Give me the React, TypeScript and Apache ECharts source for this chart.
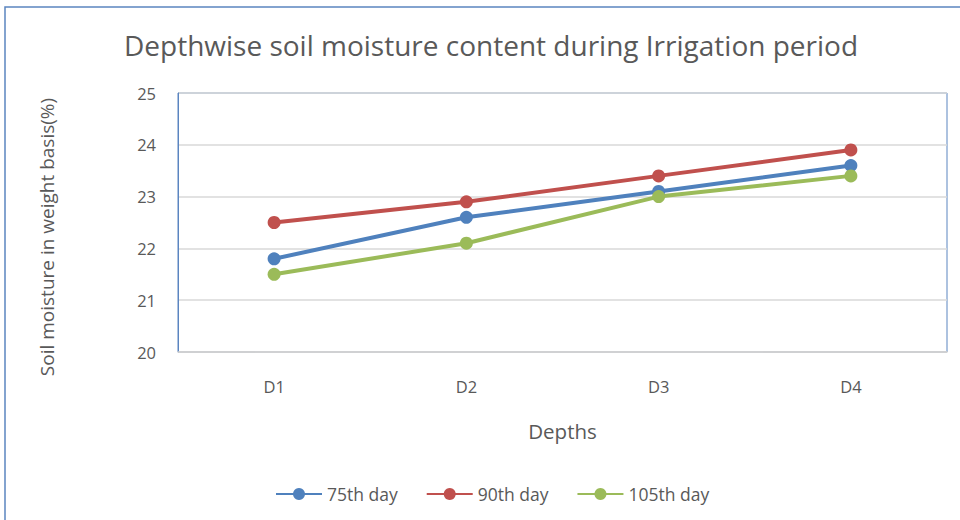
import React, { useEffect, useRef } from "react";
import * as echarts from "echarts";

const categories = ["D1", "D2", "D3", "D4"];
const day75 = [21.8, 22.6, 23.1, 23.6];
const day90 = [22.5, 22.9, 23.4, 23.9];
const day105 = [21.5, 22.1, 23.0, 23.4];
const seriesNames = ["75th day", "90th day", "105th day"];
const colors = ["#4f81bd", "#c0504d", "#9bbb59"];
const yAxisTitle = "Soil moisture in weight basis(%)";

const FONT = "'Open Sans', 'Noto Sans', sans-serif";
const TEXT = "#595959";

export default function App() {
  const ref = useRef<HTMLDivElement>(null);
  useEffect(() => {
    if (!ref.current) return;
    const chart = echarts.init(ref.current, undefined, { renderer: "svg" });
    const mk = (name: string, data: number[], color: string) => ({
      name,
      type: "line",
      data,
      symbol: "circle",
      symbolSize: 13,
      itemStyle: { color },
      lineStyle: { color, width: 4 },
    });
    chart.setOption({
      animation: false,
      backgroundColor: "#ffffff",
      textStyle: { fontFamily: FONT },
      graphic: [
        {
          type: "rect",
          shape: { x: 5, y: 7, width: 980, height: 540 },
          style: { fill: "none", stroke: "#5b85c0", lineWidth: 1.5 },
          silent: true,
        },
        {
          type: "text",
          x: 47,
          y: 237,
          rotation: Math.PI / 2,
          style: {
            text: yAxisTitle,
            fontFamily: FONT,
            fontSize: 19,
            fill: TEXT,
            align: "center",
            verticalAlign: "middle",
          },
          silent: true,
        },
      ],
      title: {
        text: "Depthwise soil moisture content during Irrigation period",
        left: 486,
        top: 26,
        textAlign: "center",
        textStyle: { fontFamily: FONT, fontSize: 28, fontWeight: "normal", color: TEXT },
      },
      legend: {
        bottom: 12,
        left: 270,
        itemWidth: 46,
        itemHeight: 15,
        itemGap: 28,
        textStyle: { fontFamily: FONT, fontSize: 17.5, color: TEXT },
        data: seriesNames,
      },
      grid: { left: 178, right: 13, top: 93, bottom: 168, show: true, borderColor: "#5b85c0", borderWidth: 1 },
      xAxis: {
        type: "category",
        data: categories,
        boundaryGap: true,
        name: "Depths",
        nameLocation: "middle",
        nameGap: 68,
        nameTextStyle: { fontFamily: FONT, fontSize: 20.5, color: TEXT },
        axisLine: { lineStyle: { color: "#d0d0d0", width: 1.5 } },
        axisTick: { show: false },
        axisLabel: { fontFamily: FONT, fontSize: 16.5, color: TEXT, margin: 26 },
      },
      yAxis: {
        type: "value",
        min: 20,
        max: 25,
        interval: 1,
        axisLine: { show: true, lineStyle: { color: "#5b85c0" } },
        axisTick: { show: false },
        axisLabel: { fontFamily: FONT, fontSize: 16.5, color: TEXT, margin: 22 },
        splitLine: { lineStyle: { color: "#d9d9d9", width: 1.5 } },
      },
      series: [
        mk(seriesNames[0], day75, colors[0]),
        mk(seriesNames[1], day90, colors[1]),
        mk(seriesNames[2], day105, colors[2]),
      ],
    });
    return () => chart.dispose();
  }, []);
  return (
    <div
      ref={ref}
      style={{ position: "fixed", left: 0, top: 0, width: 960, height: 520 }}
    />
  );
}
